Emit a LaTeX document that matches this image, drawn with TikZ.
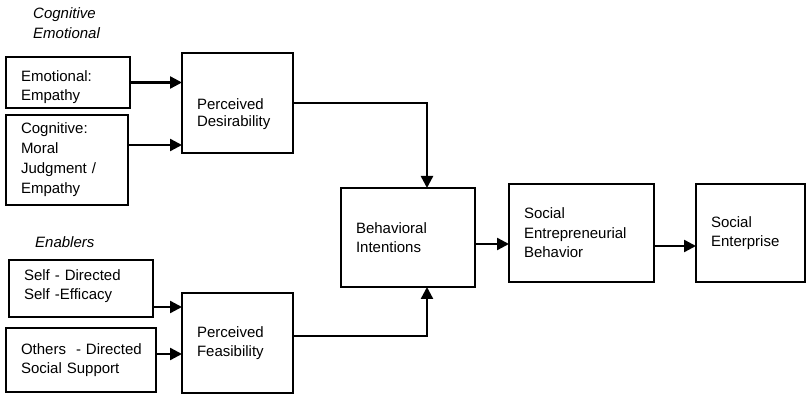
\documentclass[tikz,border=0pt]{standalone}
\usepackage{fontspec}
\setmainfont{Liberation Sans}
\usetikzlibrary{arrows.meta}
\tikzset{
  box/.style={draw, line width=1.7pt, inner xsep=15pt, inner ysep=0pt, outer sep=0pt, align=left, font=\fontsize{15}{19.5}\selectfont},
  arr/.style={line width=2.4pt, -{Triangle[length=12pt,width=12pt]}},
  conn/.style={line width=2.4pt},
  lab/.style={anchor=west, inner sep=0pt, font=\fontsize{15}{18}\selectfont\itshape}
}
\begin{document}
\hyphenpenalty=10000
\begin{tikzpicture}[x=1pt,y=-1pt]
\useasboundingbox (0,0) rectangle (807,395);
% labels
\node[lab] (l1) at (33,15) {Cognitive};
\node[lab] (l2) at (33,33) {Emotional};
\node[lab] (l3) at (35,242) {Enablers};
% boxes
\node[box, text width=94pt, minimum height=51pt, font=\fontsize{15}{19}\selectfont] (emo) at (68,82.5) {\rule{0pt}{21pt}Emotional:\\Empathy};
\node[box, text width=92pt, minimum height=90pt, font=\fontsize{15}{20}\selectfont] (cog) at (67,160) {Cognitive:\\Moral\\\mbox{Judgment /}\\Empathy};
\node[box, text width=81pt, minimum height=100pt, font=\fontsize{15}{17.5}\selectfont] (pd) at (237.5,103) {\rule{0pt}{33pt}Perceived\\Desirability};
\node[box, text width=104pt, minimum height=99pt] (bi) at (408,237.5) {Behavioral\\Intentions};
\node[box, text width=115pt, minimum height=98pt] (seb) at (581.5,233) {Social\\Entrepreneurial\\Behavior};
\node[box, text width=79pt, minimum height=98pt] (se) at (750.5,233) {Social\\Enterprise};
\node[box, text width=114pt, minimum height=57pt] (sd) at (81,288.5) {\mbox{Self - Directed}\\\mbox{Self -Efficacy}\vspace*{5pt}};
\node[box, text width=120pt, minimum height=64pt] (oth) at (81,360) {\mbox{Others\ \ - Directed}\\\mbox{Social Support}};
\node[box, text width=81pt, minimum height=100pt] (pf) at (237.5,343) {Perceived\\Feasibility};
% connectors
\coordinate (e1) at (emo.east);
\draw[arr] (e1) -- (e1 -| pd.west);
\coordinate (c1) at ([yshift=15pt]cog.east);
\draw[arr] (c1) -- (c1 -| pd.west);
\coordinate (s1) at ([yshift=-18.5pt]sd.east);
\draw[arr] (s1) -- (s1 -| pf.west);
\coordinate (o1) at ([yshift=6pt]oth.east);
\draw[arr] (o1) -- (o1 -| pf.west);
\coordinate (bt) at ([xshift=19pt]bi.north);
\coordinate (bb) at ([xshift=19pt]bi.south);
\draw[conn] (pd.east) -| ([yshift=14pt]bt);
\draw[arr] ([yshift=14pt]bt) -- (bt);
\coordinate (f1) at ([yshift=7pt]pf.east);
\draw[conn] (f1) -| ([yshift=-14pt]bb);
\draw[arr] ([yshift=-14pt]bb) -- (bb);
\coordinate (b1) at ([yshift=-6.5pt]bi.east);
\draw[arr] (b1) -- (b1 -| seb.west);
\coordinate (q1) at ([yshift=-13pt]seb.east);
\draw[arr] (q1) -- (q1 -| se.west);
\end{tikzpicture}
\end{document}
